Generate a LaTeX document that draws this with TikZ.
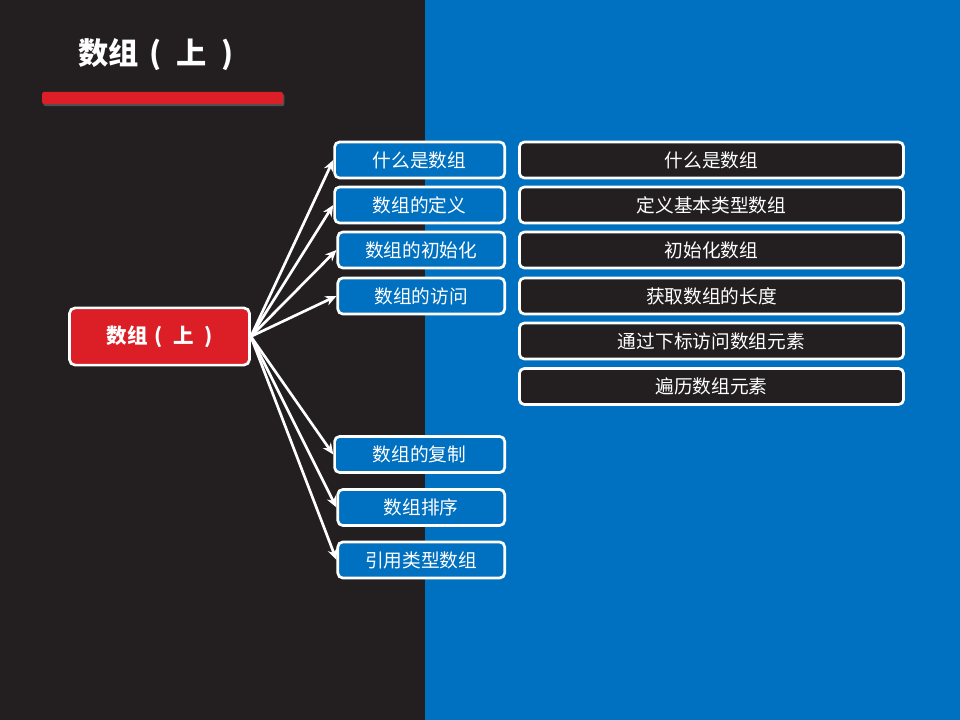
\documentclass[tikz,border=0pt]{standalone}
\usepackage{fontspec}
\usepackage{xcolor}
\usepackage{tikz}
\usetikzlibrary{arrows.meta,shadows}
\newfontfamily\cjk{Noto Sans CJK SC}

\definecolor{darkbg}{RGB}{35,31,32}
\definecolor{blueside}{RGB}{0,112,192}
\definecolor{mainred}{RGB}{220,30,38}

\tikzset{
  topic/.style={draw=white, line width=1.9pt, rounded corners=4pt, fill=mainred, text=white,
    font=\cjk\bfseries\fontsize{14.6}{16}\selectfont, minimum width=4.5cm, minimum height=1.43cm},
  sub/.style={draw=white, line width=1.9pt, rounded corners=3.5pt, fill=blueside, text=white,
    font=\cjk\fontsize{13.3}{15}\selectfont, minimum height=0.9cm, anchor=east},
  item/.style={draw=white, line width=1.9pt, rounded corners=3.5pt, fill=darkbg, text=white,
    font=\cjk\fontsize{13.3}{15}\selectfont, minimum width=9.6cm, minimum height=0.9cm},
  link/.style={-{Stealth[length=8pt,width=7pt]}, white, line width=1.9pt}
}

\begin{document}
\begin{tikzpicture}[x=0.025cm,y=-0.025cm]
\def\sx{506}; % right edge of the blue boxes
\def\ix{711.5};
\def\arrname{数组\hspace{.35em}(\hspace{.5em}上\hspace{.5em})}
\coordinate (O) at (0,0);
\coordinate (M) at (425,720);
\coordinate (E) at (960,720);

\fill[darkbg] (O) rectangle (M); %left half%
\fill[blueside] (425,0) rectangle (E); %right half%
\useasboundingbox (O) rectangle (E);

% title and bar
\node[text=white, font=\cjk\bfseries\fontsize{21.5}{24}\selectfont] (title) at (156,55) {\arrname};
\fill[mainred, rounded corners=1.5pt, drop shadow={opacity=0.5, shadow xshift=1pt, shadow yshift=-1.5pt}] (42,92) rectangle (283,104);

\node[topic] (arr) at (159.5,336.5) {\arrname};

\node[sub, minimum width=4.25cm] (what) at (\sx,160) {什么是数组};
\node[sub, minimum width=4.25cm] (def) at (\sx,205) {数组的定义};
\node[sub, minimum width=4.17cm] (init) at (\sx,250) {数组的初始化};
\node[sub, minimum width=4.17cm] (access) at (\sx,296) {数组的访问};
\node[sub, minimum width=4.25cm] (copy) at (\sx,454.5) {数组的复制};
\node[sub, minimum width=4.17cm] (sort) at (\sx,507.5) {数组排序};
\node[sub, minimum width=4.17cm] (ref) at (\sx,560) {引用类型数组};

\node[item] (i1) at (\ix,160) {什么是数组};
\node[item] (i2) at (\ix,205) {定义基本类型数组};
\node[item] (i3) at (\ix,250) {初始化数组};
\node[item] (i4) at (\ix,296) {获取数组的长度};
\node[item] (i5) at (\ix,341) {通过下标访问数组元素};
\node[item] (i6) at (\ix,386.5) {遍历数组元素};

\foreach \n in {what,def,init,access,copy,sort,ref}
  \draw[link] (arr.east) -- (\n.west);
\end{tikzpicture}
\end{document}
